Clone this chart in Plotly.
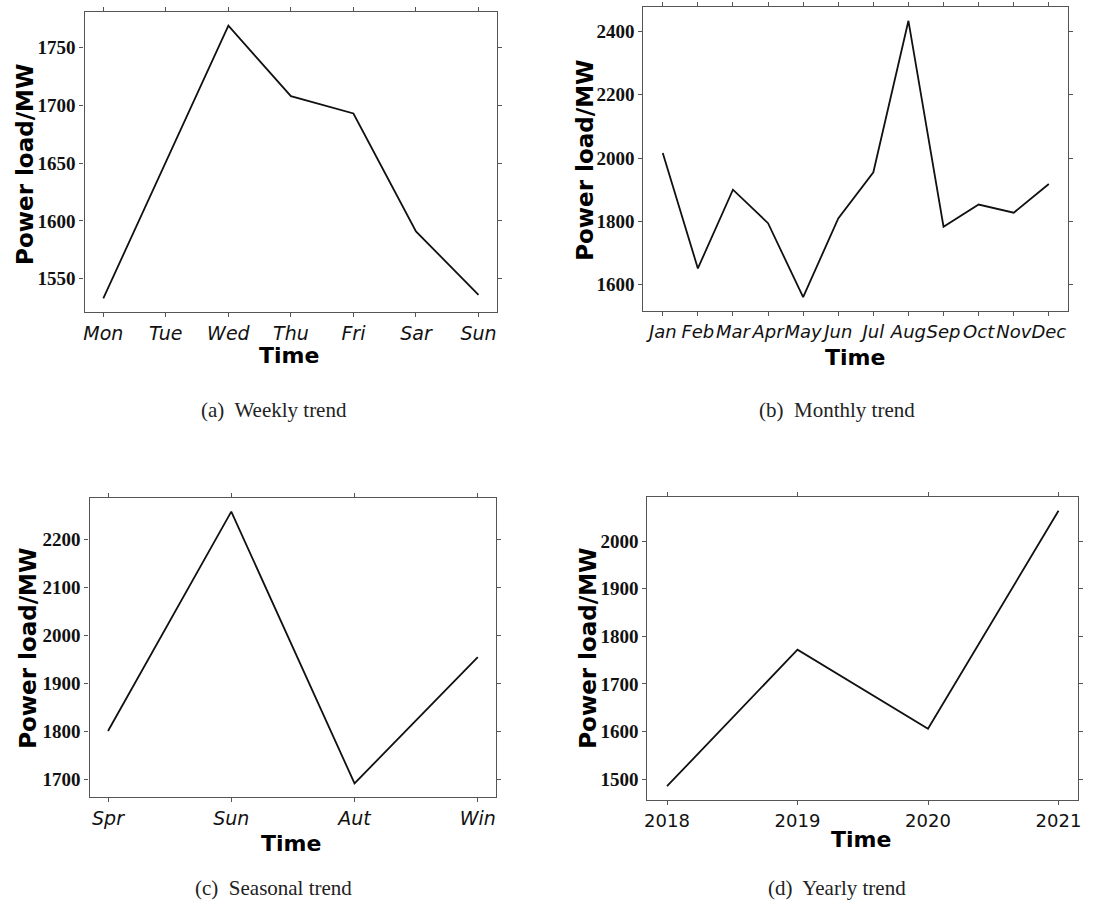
import plotly.graph_objects as go

# ---- data -------------------------------------------------------------
week_days = ["Mon", "Tue", "Wed", "Thu", "Fri", "Sar", "Sun"]
week_load = [1533, 1651, 1769, 1708, 1693, 1591, 1536]

months = ["Jan", "Feb", "Mar", "Apr", "May", "Jun",
          "Jul", "Aug", "Sep", "Oct", "Nov", "Dec"]
month_load = [2016, 1651, 1900, 1794, 1560, 1809,
              1955, 2434, 1783, 1853, 1827, 1918]

seasons = ["Spr", "Sun", "Aut", "Win"]
season_load = [1801, 2258, 1692, 1955]

years = [2018, 2019, 2020, 2021]
year_load = [1485, 1772, 1606, 2064]

# ---- canvas -----------------------------------------------------------
W, H = 1093, 907


def px(x):
    return x / W


def py(y):
    return 1 - y / H


def padded(vals, frac=0.05):
    lo, hi = min(vals), max(vals)
    pad = (hi - lo) * frac
    return [lo - pad, hi + pad]


FRAME = "#555555"
LINE = "#111111"
serif_bold = dict(family="Liberation Serif", size=19, color="#111111", weight="bold")
sans_italic = dict(family="DejaVu Sans", size=19, color="#111111", style="italic")
sans_italic_sm = dict(family="DejaVu Sans", size=18, color="#111111", style="italic")
sans_plain = dict(family="DejaVu Sans", size=18, color="#111111")

fig = go.Figure()

panels = [
    # (x values, y values, x domain px, y domain px, x range, dtick, tick font)
    (week_days, week_load, (82, 497), (12, 312), [-0.3, 6.3], 50, sans_italic),
    (months, month_load, (644, 1071), (7, 311), [-0.55, 11.55], 200, sans_italic_sm),
    (seasons, season_load, (87, 496), (498, 797), [-0.15, 3.15], 100, sans_italic),
    (years, year_load, (648, 1081), (497, 800), [2017.85, 2021.15], 100, sans_plain),
]

layout = {}
for i, (xv, yv, xd, yd, xr, dt, xfont) in enumerate(panels, start=1):
    sfx = "" if i == 1 else str(i)
    fig.add_trace(go.Scatter(
        x=xv, y=yv, mode="lines",
        line=dict(color=LINE, width=1.8),
        xaxis="x" + sfx, yaxis="y" + sfx, showlegend=False,
    ))
    xa = dict(
        domain=[px(xd[0]), px(xd[1])], anchor="y" + sfx, range=xr,
        showgrid=False, zeroline=False, showline=True, mirror="ticks",
        linecolor=FRAME, linewidth=1.3, ticks="outside", ticklen=4,
        tickcolor=FRAME, tickwidth=1, tickfont=xfont, tickangle=0,
    )
    if i == 4:
        xa.update(tickmode="array", tickvals=years, ticktext=[str(v) for v in years])
    else:
        xa.update(type="category")
    ya = dict(
        domain=[py(yd[1]), py(yd[0])], anchor="x" + sfx, range=padded(yv),
        dtick=dt, showgrid=False, zeroline=False, showline=True, mirror="ticks",
        linecolor=FRAME, linewidth=1.3, ticks="outside", ticklen=4,
        tickcolor=FRAME, tickwidth=1, tickfont=serif_bold,
    )
    layout["xaxis" + sfx] = xa
    layout["yaxis" + sfx] = ya

title_font = dict(family="DejaVu Sans", size=22, color="#000000", weight="bold")
ytitle_font = dict(family="DejaVu Sans", size=23, color="#000000", weight="bold")
caption_font = dict(family="Liberation Serif", size=21, color="#222222")

annotations = []
for x, y in [(288, 355), (857, 358), (290, 843), (863, 839)]:
    annotations.append(dict(text="Time", x=px(x), y=py(y), xref="paper", yref="paper",
                            showarrow=False, font=title_font,
                            xanchor="center", yanchor="middle"))
for x, y in [(22, 164), (585, 160), (25, 648), (588, 648)]:
    annotations.append(dict(text="Power load/MW", x=px(x), y=py(y), xref="paper",
                            yref="paper", showarrow=False, font=ytitle_font,
                            textangle=-90, xanchor="center", yanchor="middle"))
for text, x, y in [("(a)  Weekly trend", 272, 410), ("(b)  Monthly trend", 839, 410),
                   ("(c)  Seasonal trend", 272, 888), ("(d)  Yearly trend", 839, 888)]:
    annotations.append(dict(text=text, x=px(x), y=py(y), xref="paper", yref="paper",
                            showarrow=False, font=caption_font,
                            xanchor="center", yanchor="middle"))

fig.update_layout(
    width=W, height=H,
    margin=dict(l=0, r=0, t=0, b=0),
    paper_bgcolor="white", plot_bgcolor="white",
    annotations=annotations,
    **layout,
)

fig.write_html("out.html")
